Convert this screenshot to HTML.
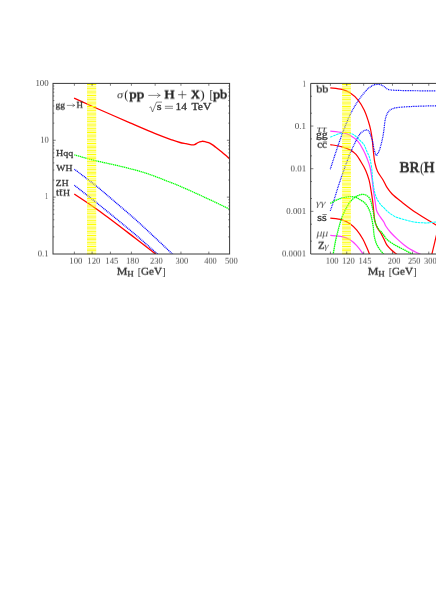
<!DOCTYPE html>
<html><head><meta charset="utf-8"><title>Higgs production cross sections and branching ratios</title>
<style>
html,body{margin:0;padding:0;background:#fff;}
body{width:436px;height:616px;position:relative;overflow:hidden;font-family:"Liberation Serif",serif;}
</style></head><body>
<svg width="436" height="616" viewBox="0 0 436 616" style="position:absolute;left:0;top:0">
<defs>
<clipPath id="cl"><rect x="53.00" y="83.40" width="176.60" height="170.60"/></clipPath>
<clipPath id="cr"><rect x="310.70" y="83.40" width="125.30" height="170.60"/></clipPath>
<filter id="sh25" x="-10%" y="-30%" width="120%" height="160%" color-interpolation-filters="sRGB"><feConvolveMatrix order="1 2" kernelMatrix="0.75 0.25" targetY="1" edgeMode="none" preserveAlpha="false"/></filter>
<filter id="sh50" x="-10%" y="-30%" width="120%" height="160%" color-interpolation-filters="sRGB"><feConvolveMatrix order="1 2" kernelMatrix="0.50 0.50" targetY="1" edgeMode="none" preserveAlpha="false"/></filter>
<filter id="sh75" x="-10%" y="-30%" width="120%" height="160%" color-interpolation-filters="sRGB"><feConvolveMatrix order="1 2" kernelMatrix="0.25 0.75" targetY="1" edgeMode="none" preserveAlpha="false"/></filter>
</defs>
<g clip-path="url(#cl)" fill="none" stroke-linecap="butt">
<path d="M74.10 98.20 C77.75 99.83 86.68 103.90 96.00 108.00 C105.32 112.10 120.12 118.53 130.00 122.80 C139.88 127.07 148.30 130.75 155.30 133.60 C162.30 136.45 167.88 138.42 172.00 139.90 C176.12 141.38 177.67 141.87 180.00 142.50 C182.33 143.13 184.08 143.32 186.00 143.70 C187.92 144.08 190.07 144.65 191.50 144.80 C192.93 144.95 193.63 144.90 194.60 144.60 C195.57 144.30 196.45 143.47 197.30 143.00 C198.15 142.53 198.90 142.08 199.70 141.80 C200.50 141.52 201.20 141.32 202.10 141.30 C203.00 141.28 204.02 141.48 205.10 141.70 C206.18 141.92 207.42 142.12 208.60 142.60 C209.78 143.08 211.00 143.82 212.20 144.60 C213.40 145.38 214.20 146.05 215.80 147.30 C217.40 148.55 219.33 150.05 221.80 152.10 C224.27 154.15 229.13 158.35 230.60 159.60" stroke="#ff0000" stroke-width="1.35"/>
<path d="M74.30 154.90 C77.80 155.85 87.60 158.70 95.30 160.60 C103.00 162.50 112.08 164.22 120.50 166.30 C128.92 168.38 137.38 170.38 145.80 173.10 C154.22 175.82 165.22 180.38 171.00 182.60 C176.78 184.82 174.70 183.87 180.50 186.40 C186.30 188.93 197.45 193.93 205.80 197.80 C214.15 201.67 226.47 207.63 230.60 209.60" stroke="#00ff00" stroke-width="1.3" stroke-dasharray="1.3 0.6"/>
<path d="M74.40 169.20 C77.92 171.90 89.10 180.27 95.50 185.40 C101.90 190.53 106.22 194.38 112.80 200.00 C119.38 205.62 128.30 213.15 135.00 219.10 C141.70 225.05 146.88 229.98 153.00 235.70 C159.12 241.42 167.87 249.75 171.70 253.40 C175.53 257.05 175.28 256.90 176.00 257.60" stroke="#0000ff" stroke-width="1.4" stroke-dasharray="0.95 0.75"/>
<path d="M74.30 185.20 C78.58 188.58 89.88 197.32 100.00 205.50 C110.12 213.68 125.57 226.32 135.00 234.30 C144.43 242.28 152.43 249.70 156.60 253.40 C160.77 257.10 159.43 255.98 160.00 256.50" stroke="#0000ff" stroke-width="1.4" stroke-dasharray="0.95 0.75"/>
<path d="M74.30 194.00 C78.58 196.92 89.88 204.17 100.00 211.50 C110.12 218.83 125.88 231.02 135.00 238.00 C144.12 244.98 150.87 250.40 154.70 253.40 C158.53 256.40 157.45 255.57 158.00 256.00" stroke="#ff0000" stroke-width="1.35"/>
</g>
<g clip-path="url(#cr)" fill="none" stroke-linecap="butt">
<path d="M330.30 87.80 C332.25 88.07 338.72 88.57 342.00 89.40 C345.28 90.23 347.32 91.02 350.00 92.80 C352.68 94.58 355.72 97.20 358.10 100.10 C360.48 103.00 362.57 106.60 364.30 110.20 C366.03 113.80 367.42 118.32 368.50 121.70 C369.58 125.08 370.17 127.43 370.80 130.50 C371.43 133.57 371.83 136.27 372.30 140.10 C372.77 143.93 373.17 149.68 373.60 153.50 C374.03 157.32 374.23 160.00 374.90 163.00 C375.57 166.00 376.22 168.63 377.60 171.50 C378.98 174.37 381.67 177.58 383.20 180.20 C384.73 182.82 385.32 184.90 386.80 187.20 C388.28 189.50 389.62 191.53 392.10 194.00 C394.58 196.47 397.95 199.05 401.70 202.00 C405.45 204.95 409.88 208.48 414.60 211.70 C419.32 214.92 426.27 219.00 430.00 221.30 C433.73 223.60 435.83 224.80 437.00 225.50" stroke="#ff0000" stroke-width="1.22"/>
<path d="M330.30 144.60 C332.25 144.97 338.72 145.92 342.00 146.80 C345.28 147.68 347.67 148.63 350.00 149.90 C352.33 151.17 354.18 152.43 356.00 154.40 C357.82 156.37 359.28 159.03 360.90 161.70 C362.52 164.37 364.33 167.32 365.70 170.40 C367.07 173.48 368.20 176.78 369.10 180.20 C370.00 183.62 370.52 187.50 371.10 190.90 C371.68 194.30 372.18 197.47 372.60 200.60 C373.02 203.73 373.27 206.55 373.60 209.70 C373.93 212.85 374.03 216.57 374.60 219.50 C375.17 222.43 375.95 225.03 377.00 227.30 C378.05 229.57 379.75 231.15 380.90 233.10 C382.05 235.05 382.92 237.05 383.90 239.00 C384.88 240.95 385.58 243.02 386.80 244.80 C388.02 246.58 389.67 248.22 391.20 249.70 C392.73 251.18 394.70 252.65 396.00 253.70 C397.30 254.75 398.50 255.62 399.00 256.00" stroke="#ff0000" stroke-width="1.22"/>
<path d="M330.30 218.20 C332.25 218.47 338.72 218.88 342.00 219.80 C345.28 220.72 347.53 221.98 350.00 223.70 C352.47 225.42 354.67 227.55 356.80 230.10 C358.93 232.65 361.12 236.05 362.80 239.00 C364.48 241.95 365.78 245.27 366.90 247.80 C368.02 250.33 368.93 252.67 369.50 254.20 C370.07 255.73 370.17 256.53 370.30 257.00" stroke="#ff0000" stroke-width="1.22"/>
<path d="M431.60 255.50 C431.67 255.18 431.60 255.30 432.00 253.60 C432.40 251.90 433.33 248.07 434.00 245.30 C434.67 242.53 435.33 239.72 436.00 237.00 C436.67 234.28 437.67 230.33 438.00 229.00" stroke="#ff0000" stroke-width="1.22"/>
<path d="M330.30 131.10 C332.25 131.33 338.72 131.80 342.00 132.50 C345.28 133.20 347.32 133.77 350.00 135.30 C352.68 136.83 355.88 139.25 358.10 141.70 C360.32 144.15 361.80 147.20 363.30 150.00 C364.80 152.80 365.97 155.58 367.10 158.50 C368.23 161.42 369.27 164.05 370.10 167.50 C370.93 170.95 371.53 175.30 372.10 179.20 C372.67 183.10 373.02 187.33 373.50 190.90 C373.98 194.47 374.52 197.45 375.00 200.60 C375.48 203.75 375.80 207.48 376.40 209.80 C377.00 212.12 377.73 212.98 378.60 214.50 C379.47 216.02 380.70 217.60 381.60 218.90 C382.50 220.20 383.25 221.03 384.00 222.30 C384.75 223.57 384.98 224.80 386.10 226.50 C387.22 228.20 388.87 230.43 390.70 232.50 C392.53 234.57 394.97 236.92 397.10 238.90 C399.23 240.88 401.37 242.72 403.50 244.40 C405.63 246.08 407.82 247.70 409.90 249.00 C411.98 250.30 414.42 251.40 416.00 252.20 C417.58 253.00 418.23 253.17 419.40 253.80 C420.57 254.43 422.40 255.63 423.00 256.00" stroke="#ff40ff" stroke-width="1.25"/>
<path d="M330.30 235.30 C332.25 235.52 338.72 235.85 342.00 236.60 C345.28 237.35 347.58 238.33 350.00 239.80 C352.42 241.27 354.38 243.13 356.50 245.40 C358.62 247.67 361.37 251.47 362.70 253.40 C364.03 255.33 364.20 256.40 364.50 257.00" stroke="#ff40ff" stroke-width="1.25"/>
<path d="M330.30 137.20 C331.18 136.82 333.65 135.62 335.60 134.90 C337.55 134.18 340.12 133.30 342.00 132.90 C343.88 132.50 345.02 132.23 346.90 132.50 C348.78 132.77 351.17 133.23 353.30 134.50 C355.43 135.77 357.92 138.38 359.70 140.10 C361.48 141.82 362.85 143.02 364.00 144.80 C365.15 146.58 365.67 148.63 366.60 150.80 C367.53 152.97 368.77 155.02 369.60 157.80 C370.43 160.58 371.10 163.93 371.60 167.50 C372.10 171.07 372.20 175.62 372.60 179.20 C373.00 182.78 373.43 186.08 374.00 189.00 C374.57 191.92 375.05 194.30 376.00 196.70 C376.95 199.10 378.30 201.47 379.70 203.40 C381.10 205.33 382.77 206.68 384.40 208.30 C386.03 209.92 387.48 211.62 389.50 213.10 C391.52 214.58 393.80 216.05 396.50 217.20 C399.20 218.35 402.53 219.17 405.70 220.00 C408.87 220.83 412.25 221.72 415.50 222.20 C418.75 222.68 422.62 222.83 425.20 222.90 C427.78 222.97 429.03 222.78 431.00 222.60 C432.97 222.42 436.00 221.93 437.00 221.80" stroke="#00ffff" stroke-width="1.05" stroke-dasharray="2.6 0.6"/>
<path d="M330.30 169.20 C331.18 166.48 333.65 158.68 335.60 152.90 C337.55 147.12 339.60 140.82 342.00 134.50 C344.40 128.18 347.32 120.60 350.00 115.00 C352.68 109.40 355.42 104.97 358.10 100.90 C360.78 96.83 363.98 92.98 366.10 90.60 C368.22 88.22 369.35 87.58 370.80 86.60 C372.25 85.62 373.20 85.02 374.80 84.70 C376.40 84.38 378.78 84.35 380.40 84.70 C382.02 85.05 383.28 86.05 384.50 86.80 C385.72 87.55 386.23 88.63 387.70 89.20 C389.17 89.77 390.23 89.97 393.30 90.20 C396.37 90.43 401.28 90.50 406.10 90.60 C410.92 90.70 417.05 90.77 422.20 90.80 C427.35 90.83 434.53 90.80 437.00 90.80" stroke="#0000ff" stroke-width="1.2" stroke-dasharray="0.95 0.75"/>
<path d="M330.30 210.90 C330.92 209.08 332.65 204.15 334.00 200.00 C335.35 195.85 337.07 190.10 338.40 186.00 C339.73 181.90 340.07 180.78 342.00 175.40 C343.93 170.02 347.32 160.12 350.00 153.70 C352.68 147.28 356.08 140.52 358.10 136.90 C360.12 133.28 360.70 133.17 362.10 132.00 C363.50 130.83 365.35 129.97 366.50 129.90 C367.65 129.83 368.27 130.53 369.00 131.60 C369.73 132.67 370.30 134.65 370.90 136.30 C371.50 137.95 372.08 139.38 372.60 141.50 C373.12 143.62 373.40 146.68 374.00 149.00 C374.60 151.32 375.57 154.68 376.20 155.40 C376.83 156.12 377.23 154.25 377.80 153.30 C378.37 152.35 378.98 151.45 379.60 149.70 C380.22 147.95 380.93 145.08 381.50 142.80 C382.07 140.52 382.58 138.27 383.00 136.00 C383.42 133.73 383.68 131.63 384.00 129.20 C384.32 126.77 384.50 123.67 384.90 121.40 C385.30 119.13 385.75 117.30 386.40 115.60 C387.05 113.90 387.83 112.33 388.80 111.20 C389.77 110.07 390.82 109.40 392.20 108.80 C393.58 108.20 394.78 107.93 397.10 107.60 C399.42 107.27 401.92 107.05 406.10 106.80 C410.28 106.55 417.05 106.27 422.20 106.10 C427.35 105.93 434.53 105.85 437.00 105.80" stroke="#0000ff" stroke-width="1.2" stroke-dasharray="0.95 0.75"/>
<path d="M330.30 203.40 C331.18 202.90 333.65 201.30 335.60 200.40 C337.55 199.50 339.60 198.63 342.00 198.00 C344.40 197.37 347.58 196.67 350.00 196.60 C352.42 196.53 354.67 196.97 356.50 197.60 C358.33 198.23 359.75 199.63 361.00 200.40 C362.25 201.17 363.10 201.47 364.00 202.20 C364.90 202.93 365.58 203.63 366.40 204.80 C367.22 205.97 368.20 207.73 368.90 209.20 C369.60 210.67 370.15 212.13 370.60 213.60 C371.05 215.07 371.32 216.68 371.60 218.00 C371.88 219.32 372.02 219.95 372.30 221.50 C372.58 223.05 373.02 225.12 373.30 227.30 C373.58 229.48 373.67 232.40 374.00 234.60 C374.33 236.80 374.77 238.70 375.30 240.50 C375.83 242.30 376.40 243.82 377.20 245.40 C378.00 246.98 379.10 248.62 380.10 250.00 C381.10 251.38 382.38 252.70 383.20 253.70 C384.02 254.70 384.70 255.62 385.00 256.00" stroke="#00ff00" stroke-width="1.3" stroke-dasharray="1.5 0.55"/>
<path d="M332.40 257.00 C332.53 256.50 332.67 256.73 333.20 254.00 C333.73 251.27 334.67 244.98 335.60 240.60 C336.53 236.22 337.73 231.58 338.80 227.70 C339.87 223.82 340.65 220.77 342.00 217.30 C343.35 213.83 345.28 209.78 346.90 206.90 C348.52 204.02 349.97 201.83 351.70 200.00 C353.43 198.17 355.43 196.85 357.30 195.90 C359.17 194.95 361.22 194.28 362.90 194.30 C364.58 194.32 366.24 195.23 367.40 196.00 C368.56 196.77 369.20 197.77 369.85 198.90 C370.50 200.03 370.89 201.42 371.30 202.80 C371.71 204.18 371.97 205.65 372.30 207.20 C372.63 208.75 373.02 210.55 373.30 212.10 C373.58 213.65 373.75 215.02 374.00 216.50 C374.25 217.98 374.42 219.60 374.80 221.00 C375.18 222.40 375.65 223.52 376.30 224.90 C376.95 226.28 377.82 228.05 378.70 229.30 C379.58 230.55 380.72 231.37 381.60 232.40 C382.48 233.43 383.10 234.32 384.00 235.50 C384.90 236.68 385.67 238.22 387.00 239.50 C388.33 240.78 390.08 241.95 392.00 243.20 C393.92 244.45 396.35 245.83 398.50 247.00 C400.65 248.17 402.75 249.08 404.90 250.20 C407.05 251.32 409.72 252.73 411.40 253.70 C413.08 254.67 414.40 255.62 415.00 256.00" stroke="#00ff00" stroke-width="1.3" stroke-dasharray="1.5 0.55"/>
</g>
<rect x="87.00" y="83.40" width="9.20" height="170.60" fill="#ffff00" fill-opacity="0.18"/>
<path d="M87.00 86.38H96.20M87.00 90.06H96.20M87.00 93.74H96.20M87.00 97.42H96.20M87.00 101.10H96.20M87.00 104.78H96.20M87.00 108.46H96.20M87.00 112.14H96.20M87.00 115.82H96.20M87.00 119.50H96.20M87.00 123.18H96.20M87.00 126.86H96.20M87.00 130.54H96.20M87.00 134.22H96.20M87.00 137.90H96.20M87.00 141.58H96.20M87.00 145.26H96.20M87.00 148.94H96.20M87.00 152.62H96.20M87.00 156.30H96.20M87.00 159.98H96.20M87.00 163.66H96.20M87.00 167.34H96.20M87.00 171.02H96.20M87.00 174.70H96.20M87.00 178.38H96.20M87.00 182.06H96.20M87.00 185.74H96.20M87.00 189.42H96.20M87.00 193.10H96.20M87.00 196.78H96.20M87.00 200.46H96.20M87.00 204.14H96.20M87.00 207.82H96.20M87.00 211.50H96.20M87.00 215.18H96.20M87.00 218.86H96.20M87.00 222.54H96.20M87.00 226.22H96.20M87.00 229.90H96.20M87.00 233.58H96.20M87.00 237.26H96.20M87.00 240.94H96.20M87.00 244.62H96.20M87.00 248.30H96.20M87.00 251.98H96.20" stroke="#ffff00" stroke-opacity="0.43" stroke-width="1.0" fill="none"/>
<path d="M87.00 84.54H96.20M87.00 88.22H96.20M87.00 91.90H96.20M87.00 95.58H96.20M87.00 99.26H96.20M87.00 102.94H96.20M87.00 106.62H96.20M87.00 110.30H96.20M87.00 113.98H96.20M87.00 117.66H96.20M87.00 121.34H96.20M87.00 125.02H96.20M87.00 128.70H96.20M87.00 132.38H96.20M87.00 136.06H96.20M87.00 139.74H96.20M87.00 143.42H96.20M87.00 147.10H96.20M87.00 150.78H96.20M87.00 154.46H96.20M87.00 158.14H96.20M87.00 161.82H96.20M87.00 165.50H96.20M87.00 169.18H96.20M87.00 172.86H96.20M87.00 176.54H96.20M87.00 180.22H96.20M87.00 183.90H96.20M87.00 187.58H96.20M87.00 191.26H96.20M87.00 194.94H96.20M87.00 198.62H96.20M87.00 202.30H96.20M87.00 205.98H96.20M87.00 209.66H96.20M87.00 213.34H96.20M87.00 217.02H96.20M87.00 220.70H96.20M87.00 224.38H96.20M87.00 228.06H96.20M87.00 231.74H96.20M87.00 235.42H96.20M87.00 239.10H96.20M87.00 242.78H96.20M87.00 246.46H96.20M87.00 250.14H96.20M87.00 253.82H96.20" stroke="#ffff00" stroke-width="1.05" fill="none"/>
<rect x="342.10" y="83.40" width="8.80" height="170.60" fill="#ffff00" fill-opacity="0.18"/>
<path d="M342.10 86.38H350.90M342.10 90.06H350.90M342.10 93.74H350.90M342.10 97.42H350.90M342.10 101.10H350.90M342.10 104.78H350.90M342.10 108.46H350.90M342.10 112.14H350.90M342.10 115.82H350.90M342.10 119.50H350.90M342.10 123.18H350.90M342.10 126.86H350.90M342.10 130.54H350.90M342.10 134.22H350.90M342.10 137.90H350.90M342.10 141.58H350.90M342.10 145.26H350.90M342.10 148.94H350.90M342.10 152.62H350.90M342.10 156.30H350.90M342.10 159.98H350.90M342.10 163.66H350.90M342.10 167.34H350.90M342.10 171.02H350.90M342.10 174.70H350.90M342.10 178.38H350.90M342.10 182.06H350.90M342.10 185.74H350.90M342.10 189.42H350.90M342.10 193.10H350.90M342.10 196.78H350.90M342.10 200.46H350.90M342.10 204.14H350.90M342.10 207.82H350.90M342.10 211.50H350.90M342.10 215.18H350.90M342.10 218.86H350.90M342.10 222.54H350.90M342.10 226.22H350.90M342.10 229.90H350.90M342.10 233.58H350.90M342.10 237.26H350.90M342.10 240.94H350.90M342.10 244.62H350.90M342.10 248.30H350.90M342.10 251.98H350.90" stroke="#ffff00" stroke-opacity="0.43" stroke-width="1.0" fill="none"/>
<path d="M342.10 84.54H350.90M342.10 88.22H350.90M342.10 91.90H350.90M342.10 95.58H350.90M342.10 99.26H350.90M342.10 102.94H350.90M342.10 106.62H350.90M342.10 110.30H350.90M342.10 113.98H350.90M342.10 117.66H350.90M342.10 121.34H350.90M342.10 125.02H350.90M342.10 128.70H350.90M342.10 132.38H350.90M342.10 136.06H350.90M342.10 139.74H350.90M342.10 143.42H350.90M342.10 147.10H350.90M342.10 150.78H350.90M342.10 154.46H350.90M342.10 158.14H350.90M342.10 161.82H350.90M342.10 165.50H350.90M342.10 169.18H350.90M342.10 172.86H350.90M342.10 176.54H350.90M342.10 180.22H350.90M342.10 183.90H350.90M342.10 187.58H350.90M342.10 191.26H350.90M342.10 194.94H350.90M342.10 198.62H350.90M342.10 202.30H350.90M342.10 205.98H350.90M342.10 209.66H350.90M342.10 213.34H350.90M342.10 217.02H350.90M342.10 220.70H350.90M342.10 224.38H350.90M342.10 228.06H350.90M342.10 231.74H350.90M342.10 235.42H350.90M342.10 239.10H350.90M342.10 242.78H350.90M342.10 246.46H350.90M342.10 250.14H350.90M342.10 253.82H350.90" stroke="#ffff00" stroke-width="1.05" fill="none"/>
<g stroke="#3a3a3a" stroke-width="1.0" fill="none">
<rect x="53.00" y="83.40" width="176.60" height="170.60"/>
<path d="M436 83.40 H310.70 V254.00 H436"/>
</g>
<g stroke="#3a3a3a" stroke-width="0.65">
<path d="M74.40 254.00 v-2.4 M74.40 83.40 v2.4"/>
<path d="M92.08 254.00 v-2.4 M92.08 83.40 v2.4"/>
<path d="M110.43 254.00 v-2.4 M110.43 83.40 v2.4"/>
<path d="M131.40 254.00 v-2.4 M131.40 83.40 v2.4"/>
<path d="M155.17 254.00 v-2.4 M155.17 83.40 v2.4"/>
<path d="M180.94 254.00 v-2.4 M180.94 83.40 v2.4"/>
<path d="M208.84 254.00 v-2.4 M208.84 83.40 v2.4"/>
<path d="M53.00 236.88 h1.30 M229.60 236.88 h-1.30"/>
<path d="M53.00 226.87 h1.30 M229.60 226.87 h-1.30"/>
<path d="M53.00 219.76 h1.30 M229.60 219.76 h-1.30"/>
<path d="M53.00 214.25 h1.30 M229.60 214.25 h-1.30"/>
<path d="M53.00 209.75 h1.30 M229.60 209.75 h-1.30"/>
<path d="M53.00 205.94 h1.30 M229.60 205.94 h-1.30"/>
<path d="M53.00 202.64 h1.30 M229.60 202.64 h-1.30"/>
<path d="M53.00 199.74 h1.30 M229.60 199.74 h-1.30"/>
<path d="M53.00 197.13 h2.70 M229.60 197.13 h-2.70"/>
<path d="M53.00 180.01 h1.30 M229.60 180.01 h-1.30"/>
<path d="M53.00 170.00 h1.30 M229.60 170.00 h-1.30"/>
<path d="M53.00 162.90 h1.30 M229.60 162.90 h-1.30"/>
<path d="M53.00 157.39 h1.30 M229.60 157.39 h-1.30"/>
<path d="M53.00 152.88 h1.30 M229.60 152.88 h-1.30"/>
<path d="M53.00 149.08 h1.30 M229.60 149.08 h-1.30"/>
<path d="M53.00 145.78 h1.30 M229.60 145.78 h-1.30"/>
<path d="M53.00 142.87 h1.30 M229.60 142.87 h-1.30"/>
<path d="M53.00 140.27 h2.70 M229.60 140.27 h-2.70"/>
<path d="M53.00 123.15 h1.30 M229.60 123.15 h-1.30"/>
<path d="M53.00 113.13 h1.30 M229.60 113.13 h-1.30"/>
<path d="M53.00 106.03 h1.30 M229.60 106.03 h-1.30"/>
<path d="M53.00 100.52 h1.30 M229.60 100.52 h-1.30"/>
<path d="M53.00 96.02 h1.30 M229.60 96.02 h-1.30"/>
<path d="M53.00 92.21 h1.30 M229.60 92.21 h-1.30"/>
<path d="M53.00 88.91 h1.30 M229.60 88.91 h-1.30"/>
<path d="M53.00 86.00 h1.30 M229.60 86.00 h-1.30"/>
<path d="M330.40 254.00 v-2.4 M330.40 83.40 v2.4"/>
<path d="M346.73 254.00 v-2.4 M346.73 83.40 v2.4"/>
<path d="M363.67 254.00 v-2.4 M363.67 83.40 v2.4"/>
<path d="M392.47 254.00 v-2.4 M392.47 83.40 v2.4"/>
<path d="M412.46 254.00 v-2.4 M412.46 83.40 v2.4"/>
<path d="M428.78 254.00 v-2.4 M428.78 83.40 v2.4"/>
<path d="M310.70 241.16 h1.30"/>
<path d="M310.70 224.19 h1.30"/>
<path d="M310.70 211.35 h2.70"/>
<path d="M310.70 198.51 h1.30"/>
<path d="M310.70 181.54 h1.30"/>
<path d="M310.70 168.70 h2.70"/>
<path d="M310.70 155.86 h1.30"/>
<path d="M310.70 138.89 h1.30"/>
<path d="M310.70 126.05 h2.70"/>
<path d="M310.70 113.21 h1.30"/>
<path d="M310.70 96.24 h1.30"/>
</g>
<g font-family="Liberation Serif, serif" opacity="0.999">
<text x="69.34" y="263" font-size="8.80px" textLength="13.09" lengthAdjust="spacingAndGlyphs" fill="#4a4a4a" filter="url(#sh75)">100</text>
<text x="87.34" y="263" font-size="8.80px" textLength="13.09" lengthAdjust="spacingAndGlyphs" fill="#4a4a4a" filter="url(#sh75)">120</text>
<text x="105.33" y="263" font-size="8.80px" textLength="13.11" lengthAdjust="spacingAndGlyphs" fill="#4a4a4a" filter="url(#sh75)">145</text>
<text x="125.94" y="263" font-size="8.80px" textLength="13.09" lengthAdjust="spacingAndGlyphs" fill="#4a4a4a" filter="url(#sh75)">180</text>
<text x="150.02" y="263" font-size="8.80px" textLength="12.70" lengthAdjust="spacingAndGlyphs" fill="#4a4a4a" filter="url(#sh75)">230</text>
<text x="175.60" y="263" font-size="8.80px" textLength="12.72" lengthAdjust="spacingAndGlyphs" fill="#4a4a4a" filter="url(#sh75)">300</text>
<text x="204.23" y="263" font-size="8.80px" textLength="12.48" lengthAdjust="spacingAndGlyphs" fill="#4a4a4a" filter="url(#sh75)">400</text>
<text x="224.91" y="263" font-size="8.80px" textLength="12.81" lengthAdjust="spacingAndGlyphs" fill="#4a4a4a" filter="url(#sh75)">500</text>
<text x="35.42" y="86" font-size="8.80px" textLength="13.31" lengthAdjust="spacingAndGlyphs" fill="#4a4a4a">100</text>
<text x="40.15" y="142" font-size="8.80px" textLength="8.57" lengthAdjust="spacingAndGlyphs" fill="#4a4a4a" filter="url(#sh75)">10</text>
<text x="44.98" y="199" font-size="8.80px" textLength="2.98" lengthAdjust="spacingAndGlyphs" fill="#4a4a4a">1</text>
<text x="37.67" y="256" font-size="8.80px" textLength="10.85" lengthAdjust="spacingAndGlyphs" fill="#4a4a4a" filter="url(#sh50)">0.1</text>
<text x="325.65" y="263" font-size="8.80px" textLength="12.87" lengthAdjust="spacingAndGlyphs" fill="#4a4a4a" filter="url(#sh75)">100</text>
<text x="341.95" y="263" font-size="8.80px" textLength="12.87" lengthAdjust="spacingAndGlyphs" fill="#4a4a4a" filter="url(#sh75)">120</text>
<text x="358.55" y="263" font-size="8.80px" textLength="12.90" lengthAdjust="spacingAndGlyphs" fill="#4a4a4a" filter="url(#sh75)">145</text>
<text x="387.83" y="263" font-size="8.80px" textLength="12.49" lengthAdjust="spacingAndGlyphs" fill="#4a4a4a" filter="url(#sh75)">200</text>
<text x="407.93" y="263" font-size="8.80px" textLength="12.49" lengthAdjust="spacingAndGlyphs" fill="#4a4a4a" filter="url(#sh75)">250</text>
<text x="424.10" y="263" font-size="8.80px" textLength="12.51" lengthAdjust="spacingAndGlyphs" fill="#4a4a4a" filter="url(#sh75)">300</text>
<text x="302.40" y="86" font-size="8.80px" textLength="3.40" lengthAdjust="spacingAndGlyphs" fill="#4a4a4a" filter="url(#sh75)">1</text>
<text x="294.86" y="129" font-size="8.80px" textLength="11.28" lengthAdjust="spacingAndGlyphs" fill="#4a4a4a">0.1</text>
<text x="290.46" y="171" font-size="8.80px" textLength="15.67" lengthAdjust="spacingAndGlyphs" fill="#4a4a4a" filter="url(#sh50)">0.01</text>
<text x="286.27" y="214" font-size="8.80px" textLength="19.86" lengthAdjust="spacingAndGlyphs" fill="#4a4a4a">0.001</text>
<text x="281.97" y="256" font-size="8.80px" textLength="24.16" lengthAdjust="spacingAndGlyphs" fill="#4a4a4a" filter="url(#sh50)">0.0001</text>
<text x="55.53" y="107" font-size="8.30px" textLength="9.53" lengthAdjust="spacingAndGlyphs" fill="#383838" filter="url(#sh75)" stroke="#383838" stroke-width="0.27" stroke-linejoin="round">gg</text>
<text x="76.57" y="107" font-size="8.50px" textLength="6.46" lengthAdjust="spacingAndGlyphs" fill="#383838" filter="url(#sh75)" stroke="#383838" stroke-width="0.27" stroke-linejoin="round">H</text>
<text x="56.04" y="156" font-size="8.50px" textLength="17.20" lengthAdjust="spacingAndGlyphs" fill="#383838" stroke="#383838" stroke-width="0.27" stroke-linejoin="round">Hqq</text>
<text x="56.34" y="171" font-size="8.50px" textLength="16.10" lengthAdjust="spacingAndGlyphs" fill="#383838" stroke="#383838" stroke-width="0.27" stroke-linejoin="round">WH</text>
<text x="55.88" y="186" font-size="8.50px" textLength="12.67" lengthAdjust="spacingAndGlyphs" fill="#383838" stroke="#383838" stroke-width="0.27" stroke-linejoin="round">ZH</text>
<text x="56.04" y="195" font-size="9.40px" textLength="6.38" lengthAdjust="spacingAndGlyphs" fill="#383838" filter="url(#sh75)" stroke="#383838" stroke-width="0.30" stroke-linejoin="round">tt</text>
<text x="63.14" y="195" font-size="8.50px" textLength="7.01" lengthAdjust="spacingAndGlyphs" fill="#383838" filter="url(#sh75)" stroke="#383838" stroke-width="0.27" stroke-linejoin="round">H</text>
<text x="116.92" y="98" font-size="10.60px" textLength="6.18" lengthAdjust="spacingAndGlyphs" fill="#383838" font-style="italic" filter="url(#sh25)">σ</text>
<text x="124.34" y="98" font-size="13.40px" textLength="4.18" lengthAdjust="spacingAndGlyphs" fill="#262626" filter="url(#sh75)">(</text>
<text x="129.25" y="98" font-size="11.80px" textLength="14.77" lengthAdjust="spacingAndGlyphs" fill="#262626" filter="url(#sh50)" stroke="#262626" stroke-width="0.54" stroke-linejoin="round">pp</text>
<text x="164.15" y="98" font-size="12.40px" textLength="10.50" lengthAdjust="spacingAndGlyphs" fill="#262626" filter="url(#sh50)" stroke="#262626" stroke-width="0.57" stroke-linejoin="round">H</text>
<text x="190.80" y="98" font-size="12.40px" textLength="9.24" lengthAdjust="spacingAndGlyphs" fill="#262626" filter="url(#sh50)" stroke="#262626" stroke-width="0.57" stroke-linejoin="round">X</text>
<text x="200.03" y="98" font-size="13.40px" textLength="4.78" lengthAdjust="spacingAndGlyphs" fill="#262626" filter="url(#sh75)">)</text>
<text x="209.56" y="99" font-size="13.20px" textLength="3.74" lengthAdjust="spacingAndGlyphs" fill="#262626">[</text>
<text x="213.06" y="98" font-size="12.00px" textLength="14.09" lengthAdjust="spacingAndGlyphs" fill="#262626" filter="url(#sh50)" stroke="#262626" stroke-width="0.55" stroke-linejoin="round">pb</text>
<text x="156.76" y="110" font-size="10.00px" textLength="4.83" lengthAdjust="spacingAndGlyphs" fill="#383838" stroke="#383838" stroke-width="0.32" stroke-linejoin="round">s</text>
<text x="175.56" y="110" font-size="10.00px" textLength="11.45" lengthAdjust="spacingAndGlyphs" fill="#383838" stroke="#383838" stroke-width="0.32" stroke-linejoin="round">14</text>
<text x="191.46" y="110" font-size="10.50px" textLength="20.01" lengthAdjust="spacingAndGlyphs" fill="#383838" stroke="#383838" stroke-width="0.34" stroke-linejoin="round">TeV</text>
<text x="116.71" y="274" font-size="10.40px" textLength="10.68" lengthAdjust="spacingAndGlyphs" fill="#383838" filter="url(#sh75)" stroke="#383838" stroke-width="0.33" stroke-linejoin="round">M</text>
<text x="127.25" y="276" font-size="7.60px" textLength="6.49" lengthAdjust="spacingAndGlyphs" fill="#383838" filter="url(#sh75)" stroke="#383838" stroke-width="0.24" stroke-linejoin="round">H</text>
<text x="137.72" y="275" font-size="11.40px" textLength="3.44" lengthAdjust="spacingAndGlyphs" fill="#383838">[</text>
<text x="141.02" y="274" font-size="10.40px" textLength="21.06" lengthAdjust="spacingAndGlyphs" fill="#383838" filter="url(#sh75)" stroke="#383838" stroke-width="0.33" stroke-linejoin="round">GeV</text>
<text x="162.36" y="275" font-size="11.40px" textLength="3.26" lengthAdjust="spacingAndGlyphs" fill="#383838">]</text>
<text x="367.71" y="274" font-size="10.40px" textLength="10.68" lengthAdjust="spacingAndGlyphs" fill="#383838" filter="url(#sh75)" stroke="#383838" stroke-width="0.33" stroke-linejoin="round">M</text>
<text x="378.25" y="276" font-size="7.60px" textLength="6.49" lengthAdjust="spacingAndGlyphs" fill="#383838" filter="url(#sh75)" stroke="#383838" stroke-width="0.24" stroke-linejoin="round">H</text>
<text x="388.72" y="275" font-size="11.40px" textLength="3.44" lengthAdjust="spacingAndGlyphs" fill="#383838">[</text>
<text x="392.02" y="274" font-size="10.40px" textLength="21.06" lengthAdjust="spacingAndGlyphs" fill="#383838" filter="url(#sh75)" stroke="#383838" stroke-width="0.33" stroke-linejoin="round">GeV</text>
<text x="413.36" y="275" font-size="11.40px" textLength="3.26" lengthAdjust="spacingAndGlyphs" fill="#383838">]</text>
<text x="316.17" y="92" font-size="10.50px" textLength="12.22" lengthAdjust="spacingAndGlyphs" fill="#383838" filter="url(#sh50)" stroke="#383838" stroke-width="0.34" stroke-linejoin="round">bb</text>
<text x="316.89" y="132" font-size="9.60px" textLength="10.01" lengthAdjust="spacingAndGlyphs" fill="#4c4c4c" font-style="italic" filter="url(#sh50)">ττ</text>
<text x="315.96" y="138" font-size="10.00px" textLength="11.82" lengthAdjust="spacingAndGlyphs" fill="#383838" stroke="#383838" stroke-width="0.32" stroke-linejoin="round">gg</text>
<text x="317.15" y="147" font-size="10.20px" textLength="9.82" lengthAdjust="spacingAndGlyphs" fill="#383838" filter="url(#sh75)" stroke="#383838" stroke-width="0.33" stroke-linejoin="round">cc</text>
<text x="315.99" y="205" font-size="8.80px" textLength="9.55" lengthAdjust="spacingAndGlyphs" fill="#5c5c5c" font-style="italic" filter="url(#sh75)">γγ</text>
<text x="317.38" y="221" font-size="10.40px" textLength="9.38" lengthAdjust="spacingAndGlyphs" fill="#383838" stroke="#383838" stroke-width="0.33" stroke-linejoin="round">ss</text>
<text x="316.40" y="236" font-size="9.40px" textLength="11.90" lengthAdjust="spacingAndGlyphs" fill="#5c5c5c" font-style="italic" filter="url(#sh50)">μμ</text>
<text x="317.94" y="248" font-size="9.80px" textLength="6.60" lengthAdjust="spacingAndGlyphs" fill="#383838" filter="url(#sh75)" stroke="#383838" stroke-width="0.31" stroke-linejoin="round">Z</text>
<text x="324.21" y="248" font-size="8.60px" textLength="4.36" lengthAdjust="spacingAndGlyphs" fill="#5c5c5c" font-style="italic" filter="url(#sh75)">γ</text>
<text x="399.57" y="172" font-size="14.00px" textLength="19.93" lengthAdjust="spacingAndGlyphs" fill="#262626" filter="url(#sh25)" stroke="#262626" stroke-width="0.64" stroke-linejoin="round">BR</text>
<text x="419.94" y="172" font-size="14.00px" textLength="4.18" lengthAdjust="spacingAndGlyphs" fill="#262626" filter="url(#sh50)">(</text>
<text x="423.87" y="172" font-size="14.00px" textLength="10.85" lengthAdjust="spacingAndGlyphs" fill="#262626" filter="url(#sh25)" stroke="#262626" stroke-width="0.64" stroke-linejoin="round">H</text>
</g>
<g stroke="#383838" fill="none" stroke-width="0.6" stroke-linecap="round" stroke-linejoin="round">
<path d="M148.7 95.4 H160.1 M157.5 93.3 Q158.6 95.1 160.1 95.4 Q158.6 95.7 157.5 97.5" stroke-width="0.58"/>
<path d="M178.1 94.7 H186.4 M182.25 90.7 V98.7" stroke-width="0.7" stroke-linecap="butt"/>
<path d="M67.2 105.4 H74.6 M72.8 104.0 Q73.6 105.2 74.6 105.4 Q73.6 105.6 72.8 106.8" stroke-width="0.55"/>
<path d="M149.8 107.3 L150.8 106.8 L152.5 112.0 L156.5 102.1 H161.6" stroke-width="0.6"/>
<path d="M164.9 106.3 H173.0 M164.9 108.3 H173.0" stroke-width="0.6" stroke-linecap="butt"/>
<path d="M59.6 189.5 H62.4" stroke-width="0.55"/>
<path d="M322.8 214.5 H326.4" stroke-width="0.6"/>
<path d="M323.2 141.9 H326.7" stroke-width="0.6"/>
</g>
</svg>
</body></html>
